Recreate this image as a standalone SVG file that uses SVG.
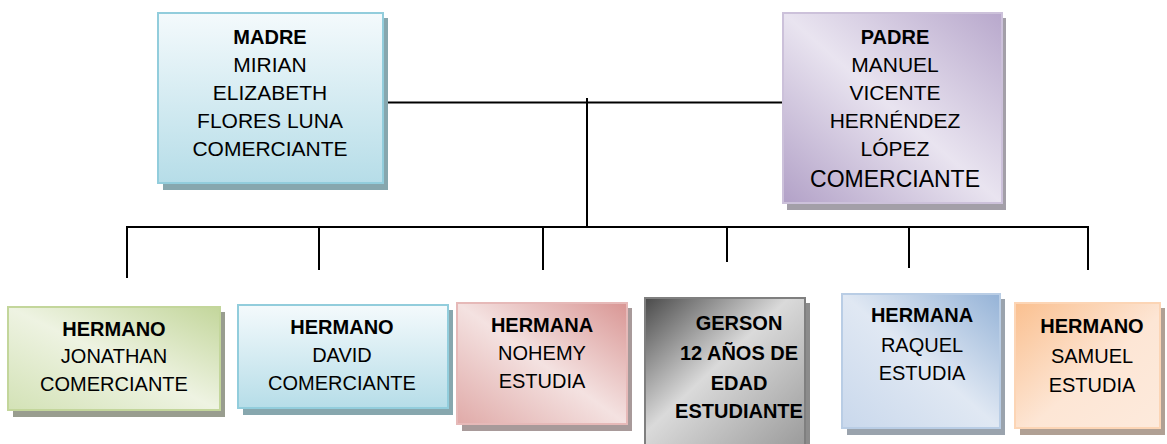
<svg xmlns="http://www.w3.org/2000/svg" width="1167" height="444" viewBox="0 0 1167 444">
<style>
text{font-family:"Liberation Sans",Arial,sans-serif;font-size:20px;fill:#000;text-anchor:middle}
.b{font-weight:bold}
.l{font-size:21px}
.line{stroke:#000;stroke-width:2;fill:none}
</style>
<defs>
<linearGradient id="gBlue" x1="0" y1="0" x2="0" y2="1"><stop offset="0" stop-color="#f4fafc"/><stop offset="1" stop-color="#b6dde8"/></linearGradient>
<linearGradient id="gPurple" x1="0" y1="1" x2="1" y2="0"><stop offset="0" stop-color="#b2a1c7"/><stop offset="0.5" stop-color="#e9e4f0"/><stop offset="1" stop-color="#b8a8cc"/></linearGradient>
<linearGradient id="gGreen" x1="0" y1="1" x2="1" y2="0"><stop offset="0" stop-color="#d3e2b6"/><stop offset="0.5" stop-color="#eef3e2"/><stop offset="1" stop-color="#c3d69b"/></linearGradient>
<linearGradient id="gRed" x1="0" y1="1" x2="1" y2="0"><stop offset="0" stop-color="#e0aaa8"/><stop offset="0.5" stop-color="#f4e2e1"/><stop offset="1" stop-color="#d99694"/></linearGradient>
<linearGradient id="gGray" x1="0" y1="0" x2="1" y2="1"><stop offset="0" stop-color="#4a4a4a"/><stop offset="0.45" stop-color="#dadada"/><stop offset="1" stop-color="#9a9a9a"/></linearGradient>
<linearGradient id="gSky" x1="0" y1="1" x2="1" y2="0"><stop offset="0" stop-color="#c9d8ec"/><stop offset="0.5" stop-color="#e0e8f3"/><stop offset="1" stop-color="#95b3d7"/></linearGradient>
<linearGradient id="gOrange" x1="0" y1="0" x2="1" y2="1"><stop offset="0" stop-color="#fac090"/><stop offset="0.55" stop-color="#fde6d5"/><stop offset="1" stop-color="#fdeadc"/></linearGradient>
</defs>

<g id="connectors">
<path class="line" d="M385 102.5H783"/>
<path class="line" d="M587 98V227"/>
<path class="line" d="M126 227H1089"/>
<path class="line" d="M127 227V278"/>
<path class="line" d="M319 227V270"/>
<path class="line" d="M543 227V270"/>
<path class="line" d="M727 227V262"/>
<path class="line" d="M909 227V268"/>
<path class="line" d="M1088 227V270"/>
</g>

<g id="madre">
<rect x="163" y="18" width="225" height="172" fill="#87a7ae"/>
<rect x="158" y="13" width="225" height="170" fill="url(#gBlue)" stroke="#92cddc" stroke-width="2"/>
<text x="270" y="44" class="b">MADRE</text>
<text x="270" y="72" class="l">MIRIAN</text>
<text x="270" y="100" class="l">ELIZABETH</text>
<text x="270" y="128" class="l">FLORES LUNA</text>
<text x="270" y="156" class="l">COMERCIANTE</text>
</g>

<g id="padre">
<rect x="787" y="18" width="219" height="192" fill="#a39fa8"/>
<rect x="783" y="13" width="219" height="190" fill="url(#gPurple)" stroke="#ccc1da" stroke-width="2"/>
<text x="895" y="44" class="b">PADRE</text>
<text x="895" y="72" class="l">MANUEL</text>
<text x="895" y="100" class="l">VICENTE</text>
<text x="895" y="128" class="l">HERNÉNDEZ</text>
<text x="895" y="156" class="l">LÓPEZ</text>
<text x="895" y="187" style="font-size:23px">COMERCIANTE</text>
</g>

<g id="jonathan">
<rect x="13" y="312" width="212" height="105" fill="#999d8f"/>
<rect x="8" y="307" width="212" height="103" fill="url(#gGreen)" stroke="#c3d69b" stroke-width="2"/>
<text x="114" y="336" class="b">HERMANO</text>
<text x="114" y="363">JONATHAN</text>
<text x="114" y="391">COMERCIANTE</text>
</g>

<g id="david">
<rect x="243" y="310" width="210" height="105" fill="#87a7ae"/>
<rect x="238" y="305" width="210" height="103" fill="url(#gBlue)" stroke="#92cddc" stroke-width="2"/>
<text x="342" y="334" class="b">HERMANO</text>
<text x="342" y="362">DAVID</text>
<text x="342" y="390">COMERCIANTE</text>
</g>

<g id="nohemy">
<rect x="462" y="308" width="170" height="123" fill="#a89a9a"/>
<rect x="457" y="303" width="170" height="121" fill="url(#gRed)" stroke="#e6b9b8" stroke-width="2"/>
<text x="542" y="332" class="b">HERMANA</text>
<text x="542" y="360">NOHEMY</text>
<text x="542" y="388">ESTUDIA</text>
</g>

<g id="gerson">
<rect x="650" y="303" width="160" height="150" fill="#8c8c8c"/>
<rect x="645" y="298" width="160" height="150" fill="url(#gGray)" stroke="#7f7f7f" stroke-width="2"/>
<text x="739" y="330" class="b">GERSON</text>
<text x="739" y="360" class="b">12 AÑOS DE</text>
<text x="739" y="390" class="b">EDAD</text>
<text x="739" y="418" class="b">ESTUDIANTE</text>
</g>

<g id="raquel">
<rect x="847" y="299" width="158" height="136" fill="#9aa3ad"/>
<rect x="842" y="294" width="158" height="134" fill="url(#gSky)" stroke="#b9cde5" stroke-width="2"/>
<text x="922" y="322" class="b">HERMANA</text>
<text x="922" y="352">RAQUEL</text>
<text x="922" y="380">ESTUDIA</text>
</g>

<g id="samuel">
<rect x="1020" y="308" width="145" height="127" fill="#b0a094"/>
<rect x="1015" y="303" width="145" height="125" fill="url(#gOrange)" stroke="#fcd5b5" stroke-width="2"/>
<text x="1092" y="333" class="b">HERMANO</text>
<text x="1092" y="363">SAMUEL</text>
<text x="1092" y="392">ESTUDIA</text>
</g>
</svg>
